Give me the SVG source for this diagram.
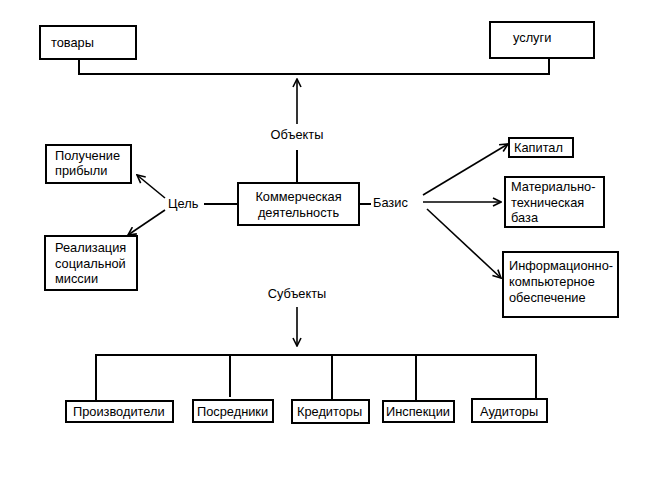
<svg xmlns="http://www.w3.org/2000/svg" width="650" height="487" viewBox="0 0 650 487">
<defs>
<marker id="ah" viewBox="0 0 10 10" refX="9" refY="5" markerWidth="10" markerHeight="10" markerUnits="userSpaceOnUse" orient="auto">
<path d="M1,1 L9,5 L1,9" fill="none" stroke="#000" stroke-width="1.6"/>
</marker>
<style>
.box{fill:#fff;stroke:#000;stroke-width:2}
.t{font-family:"Liberation Sans",Arial,sans-serif;font-size:12.8px;fill:#000}
.c{text-anchor:middle}
.ln{fill:none;stroke:#000;stroke-width:2}
.ar{fill:none;stroke:#000;stroke-width:1.6;marker-end:url(#ah)}
</style>
</defs>
<rect width="650" height="487" fill="#fff"/>
<g id="connectors">
<polyline class="ln" points="79,59 79,74 549,74 549,58"/>
<line class="ar" x1="297" y1="124" x2="297" y2="79"/>
<line class="ln" x1="297" y1="150" x2="297" y2="183"/>
<line class="ln" x1="204" y1="204" x2="238" y2="204"/>
<line class="ln" x1="359" y1="204" x2="371" y2="204"/>
<line class="ar" x1="165" y1="198" x2="137" y2="175"/>
<line class="ar" x1="165" y1="210" x2="128" y2="235"/>
<line class="ar" x1="423" y1="195" x2="508" y2="144"/>
<line class="ar" x1="423" y1="202" x2="501" y2="202"/>
<line class="ar" x1="427" y1="209" x2="501" y2="278"/>
<line class="ar" x1="297" y1="307" x2="297" y2="346"/>
<polyline class="ln" points="96,401 96,355 536,355 536,399"/>
<line class="ln" x1="230" y1="355" x2="230" y2="397"/>
<line class="ln" x1="332" y1="355" x2="332" y2="400"/>
<line class="ln" x1="416" y1="355" x2="416" y2="401"/>
</g>
<g id="tovary"><rect class="box" x="40" y="26" width="96" height="33"/><text class="t" x="51" y="47">товары</text></g>
<g id="uslugi"><rect class="box" x="490" y="22" width="104" height="36"/><text class="t" x="513" y="42">услуги</text></g>
<g id="obekty"><text class="t c" x="297" y="139">Объекты</text></g>
<g id="kommercheskaya"><rect class="box" x="238" y="183" width="121" height="42"/><text class="t c" x="298.5" y="201">Коммерческая</text><text class="t c" x="298.5" y="217">деятельность</text></g>
<g id="tsel"><text class="t" x="168" y="208">Цель</text></g>
<g id="bazis"><text class="t" x="373" y="207">Базис</text></g>
<g id="poluchenie"><rect class="box" x="46" y="145" width="85" height="38"/><text class="t" x="55" y="160">Получение</text><text class="t" x="55" y="175">прибыли</text></g>
<g id="realizatsiya"><rect class="box" x="45" y="236" width="92" height="54"/><text class="t" x="55" y="252">Реализация</text><text class="t" x="55" y="268">социальной</text><text class="t" x="55" y="283">миссии</text></g>
<g id="kapital"><rect class="box" x="509" y="138" width="64" height="19"/><text class="t" x="514" y="152">Капитал</text></g>
<g id="materialno"><rect class="box" x="505" y="177" width="99" height="50"/><text class="t" x="511" y="191">Материально-</text><text class="t" x="511" y="207">техническая</text><text class="t" x="511" y="222">база</text></g>
<g id="informatsionno"><rect class="box" x="503" y="252" width="115" height="65"/><text class="t" x="509" y="270">Информационно-</text><text class="t" x="509" y="286">компьютерное</text><text class="t" x="509" y="302">обеспечение</text></g>
<g id="subekty"><text class="t c" x="297" y="298">Субъекты</text></g>
<g id="proizvoditeli"><rect class="box" x="66" y="401" width="107" height="21"/><text class="t" x="73" y="416">Производители</text></g>
<g id="posredniki"><rect class="box" x="193" y="400" width="80" height="22"/><text class="t" x="197" y="416">Посредники</text></g>
<g id="kreditory"><rect class="box" x="292" y="400" width="77" height="23"/><text class="t" x="297" y="416">Кредиторы</text></g>
<g id="inspektsii"><rect class="box" x="383" y="401" width="71" height="21"/><text class="t" x="386" y="416">Инспекции</text></g>
<g id="auditory"><rect class="box" x="472" y="399" width="75" height="23"/><text class="t" x="480" y="416">Аудиторы</text></g>
</svg>
